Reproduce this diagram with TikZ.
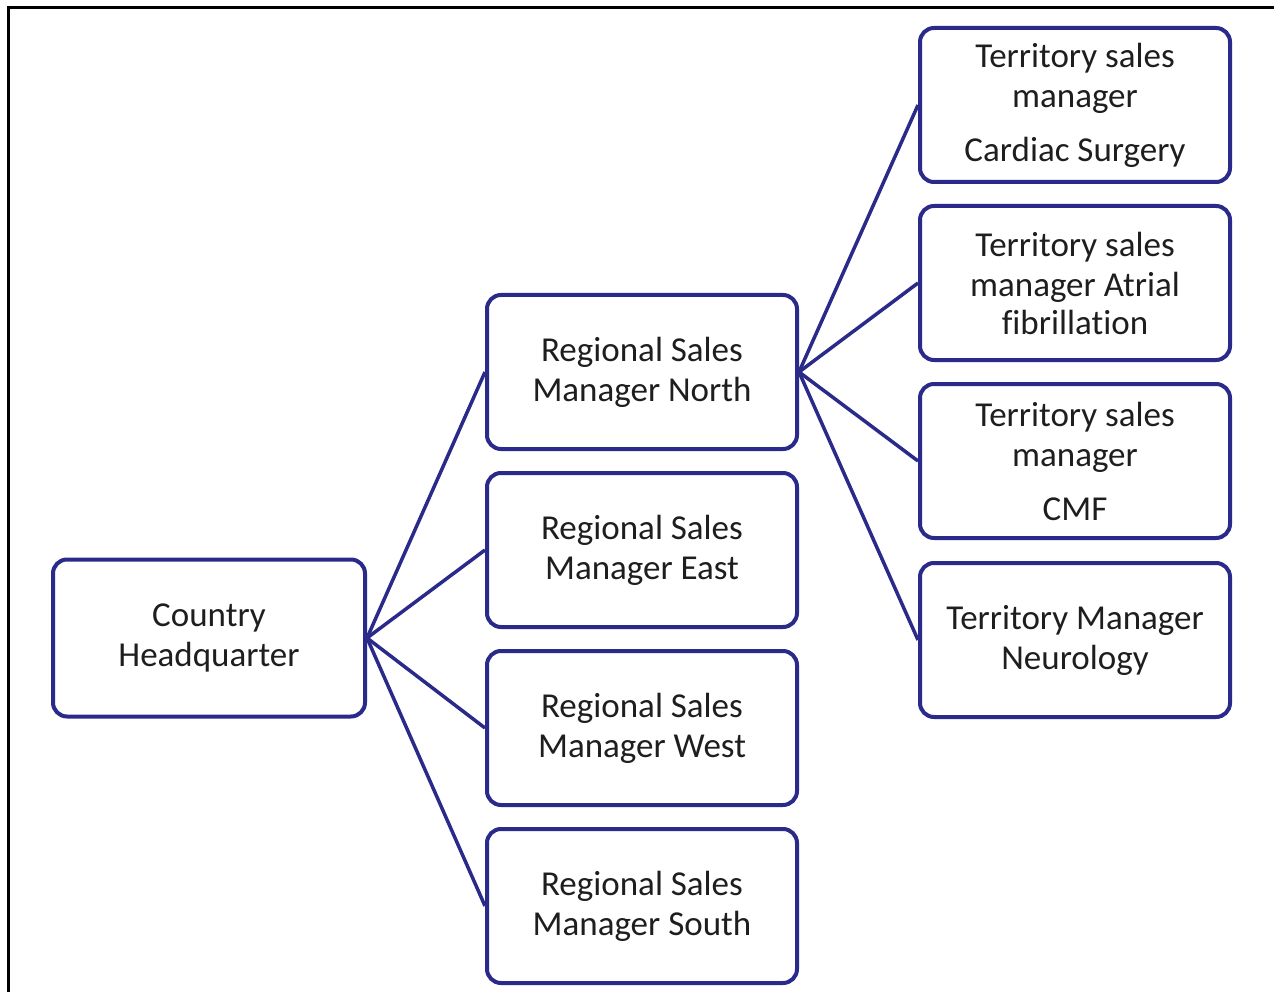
\documentclass[tikz,border=0pt]{standalone}
\usepackage{fontspec}
\setmainfont{Carlito}[Ligatures=NoCommon]
\definecolor{boxblue}{RGB}{42,42,138}
\definecolor{txtgray}{RGB}{30,30,30}
\begin{document}
\begin{tikzpicture}[
            x=1pt, y=-1pt,
            box/.style={draw=boxblue, line width=4pt, rounded corners=14pt,
                minimum width=310pt, minimum height=154pt, align=center,
                text=txtgray, font=\fontsize{35}{40}\selectfont},
            link/.style={draw=boxblue, line width=3.5pt}
        ]
            \useasboundingbox (0,0) rectangle (1274,992);
            % 外框 (只有上边和左边)
            \draw[line width=3pt] (8,992) -- (8,8) -- (1274,8);

            \node[box, minimum width=312pt, minimum height=157pt] (hq) at (209,638) {Country\\Headquarter};

            \node[box] (north) at (642,372) {Regional Sales\\Manager North};
            \node[box] (east)  at (642,550) {Regional Sales\\Manager East};
            \node[box] (west)  at (642,728) {Regional Sales\\Manager West};
            \node[box] (south) at (642,906) {Regional Sales\\Manager South};

            \node[box] (cardiac) at (1075,105) {Territory sales\\manager\\[14pt]Cardiac Surgery};
            \node[box] (atrial)  at (1075,283) {Territory sales\\manager Atrial\\[-2pt]fibrillation};
            \node[box] (cmf)     at (1075,461) {Territory sales\\manager\\[14pt]CMF};
            \node[box] (neuro)   at (1075,640) {Territory Manager\\Neurology};

            % 连线
            \foreach \n in {north,east,west,south}
                \draw[link] (hq.east) -- (\n.west);
            \foreach \n in {cardiac,atrial,cmf,neuro}
                \draw[link] (north.east) -- (\n.west);
        \end{tikzpicture}
\end{document}
